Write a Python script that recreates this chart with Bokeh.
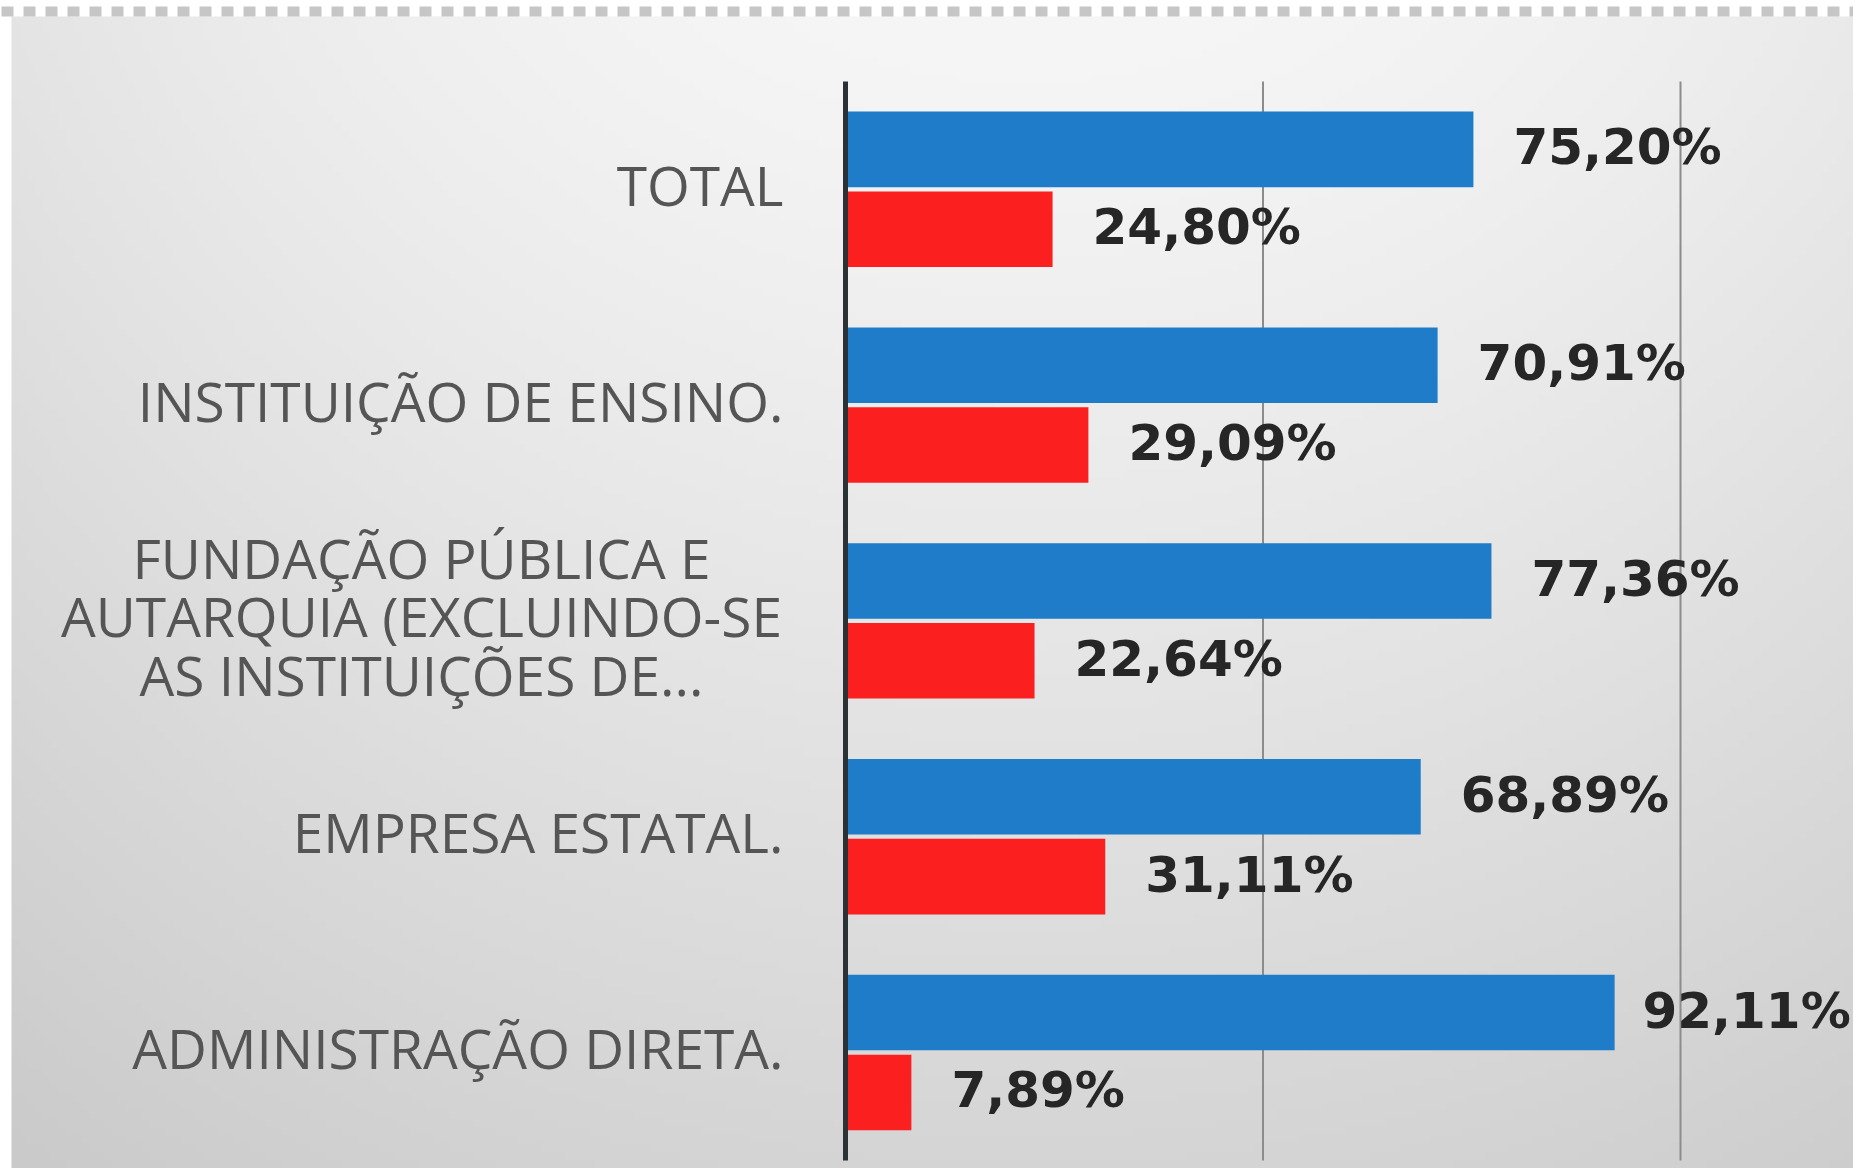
import numpy as np
from bokeh.plotting import figure
from bokeh.models import ColumnDataSource, Range1d, Span
from bokeh.core.properties import value
from bokeh.embed import file_html
from bokeh.resources import INLINE

# ---- data ----
categories = [
    "TOTAL",
    "INSTITUIÇÃO DE ENSINO.",
    "FUNDAÇÃO PÚBLICA E\nAUTARQUIA (EXCLUINDO-SE\nAS INSTITUIÇÕES DE...",
    "EMPRESA ESTATAL.",
    "ADMINISTRAÇÃO DIRETA.",
]
blue_values = [75.20, 70.91, 77.36, 68.89, 92.11]
red_values = [24.80, 29.09, 22.64, 31.11, 7.89]

# ---- layout constants ----
W, H = 1853, 1168
PX_PER_CAT = 215.8
Y0_PX = 1052.0            # pixel row (from top) of the bottom category centre
PX_PER_PCT = 8.35
AXIS_PX = 845.0
X_START = -AXIS_PX / PX_PER_PCT
X_END = X_START + W / PX_PER_PCT
VAL_FONT_PX = 50
LABEL_GAP = 40

y_top = Y0_PX / PX_PER_CAT
y_bot = (Y0_PX - H) / PX_PER_CAT

n = len(categories)
ypos = np.arange(n)[::-1].astype(float)   # TOTAL on top

def fmt(v):
    return f"{v:.2f}".replace(".", ",") + "%"

def label_offset(v):
    # keep the value label inside the frame (approximate label width)
    width = 4.1 * VAL_FONT_PX
    bar_end = AXIS_PX + v * PX_PER_PCT
    return min(LABEL_GAP, W - 6 - width - bar_end)

p = figure(width=W, height=H, x_range=Range1d(X_START, X_END), y_range=Range1d(y_bot, y_top),
           output_backend="svg", toolbar_location=None, x_axis_location=None, y_axis_location=None,
           min_border=0, min_border_left=0, min_border_right=0, min_border_top=0, min_border_bottom=0)
p.grid.visible = False
p.outline_line_color = None
p.background_fill_color = "white"
p.border_fill_color = "white"

# ---- background gradient (styling) ----
nx, ny = 240, 140
u = np.linspace(0, 1, nx)[None, :]
v = np.linspace(1, 0, ny)[:, None]   # row 0 = bottom
w = ((u - 0.55) / 0.55) ** 2
top = 246 - 18 * w
bot = 213 - 11 * w
vv = v ** 1.2
L = np.clip(top * (1 - vv) + bot * vv, 0, 255).astype(np.uint8)
img = np.empty((ny, nx), dtype=np.uint32)
view = img.view(dtype=np.uint8).reshape((ny, nx, 4))
view[..., 0] = L
view[..., 1] = L
view[..., 2] = L
view[..., 3] = 255
img_left = X_START + 11 / PX_PER_PCT
img_top = (Y0_PX - 16) / PX_PER_CAT
p.image_rgba(image=[img], x=img_left, y=y_bot, dw=X_END - img_left, dh=img_top - y_bot)

# dashed top border
p.add_layout(Span(location=(Y0_PX - 11) / PX_PER_CAT, dimension="width", line_color="#c6c6c6",
                  line_width=10, line_dash="12 10", line_dash_offset=21))

# ---- gridlines ----
grid_x = [50, 100]
p.segment(x0=grid_x, x1=grid_x, y0=[-0.5] * 2, y1=[n - 0.5] * 2, line_color="#8c8c8c", line_width=2)

# ---- bars ----
src = ColumnDataSource(dict(
    y=ypos,
    blue=blue_values,
    red=red_values,
    yb=ypos + 0.185,
    yr=ypos - 0.185,
    blab=[fmt(v) for v in blue_values],
    rlab=[fmt(v) for v in red_values],
    boff=[label_offset(v) for v in blue_values],
    roff=[label_offset(v) for v in red_values],
))
p.hbar(y="yb", left=0, right="blue", height=0.35, source=src, fill_color="#1E7CC8", line_color=None)
p.hbar(y="yr", left=0, right="red", height=0.35, source=src, fill_color="#FC1F1F", line_color=None)

# ---- axis line ----
p.segment(x0=[0], x1=[0], y0=[-0.5], y1=[n - 0.5], line_color="#2a3236", line_width=5)

# ---- value labels ----
for xcol, ycol, lcol, ocol in (("blue", "yb", "blab", "boff"), ("red", "yr", "rlab", "roff")):
    p.text(x=xcol, y=ycol, text=lcol, source=src, x_offset=ocol, y_offset=-2, text_align="left",
           text_baseline="middle", text_font=value("DejaVu Sans"), text_font_style="bold",
           text_font_size=f"{VAL_FONT_PX}px", text_color="#262626")

# ---- category labels ----
multi = ["\n" in c for c in categories]
cat_src = ColumnDataSource(dict(
    x=[0.0] * n,
    y=ypos,
    text=categories,
    align=["center" if m else "right" for m in multi],
    xoff=[-424 if m else -62 for m in multi],
))
p.text(x="x", y="y", text="text", source=cat_src, x_offset="xoff", y_offset=-5, text_align="align",
       text_baseline="middle", text_font=value("Open Sans"), text_font_size="55px",
       text_color="#555555", text_line_height=0.78)

open("out.html", "w").write(file_html(p, INLINE))
